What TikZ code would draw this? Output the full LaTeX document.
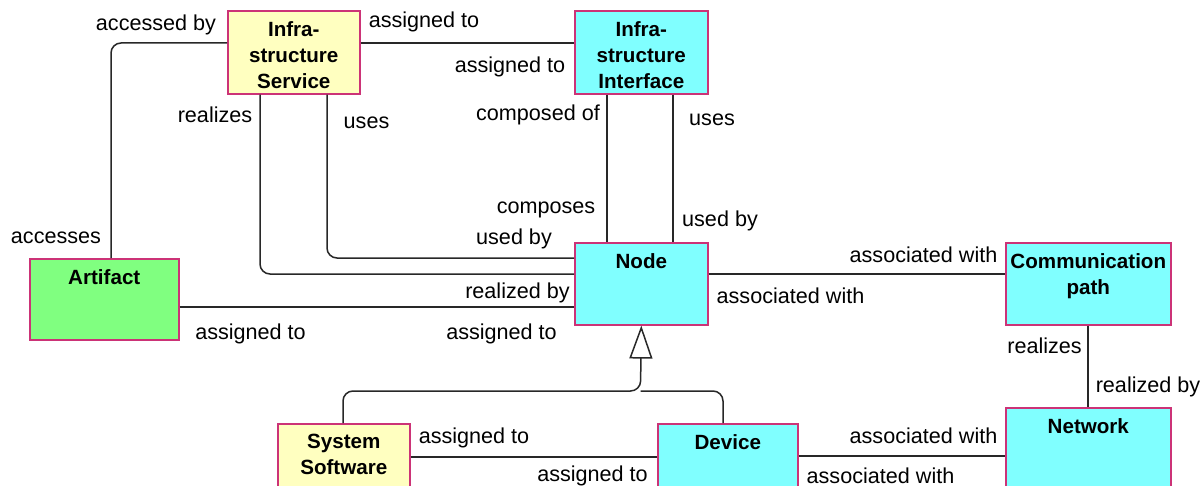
\documentclass[tikz,border=0pt]{standalone}
\usepackage{fontspec}
\setmainfont{Liberation Sans}
\usetikzlibrary{arrows.meta}
\definecolor{boxline}{RGB}{204,51,119}
\definecolor{svcfill}{RGB}{255,255,192}
\definecolor{techfill}{RGB}{128,255,255}
\definecolor{artfill}{RGB}{128,255,128}
\definecolor{wire}{RGB}{40,40,40}

\begin{document}
\begin{tikzpicture}[x=0.5pt,y=-0.5pt,
  elem/.style={draw=boxline, line width=0.8pt, anchor=north west, inner sep=0pt},
  title/.style={anchor=north, inner sep=0pt, yshift=-5.5pt, align=center,
                font=\fontsize{10.3}{13}\selectfont\bfseries},
  rel/.style={font=\fontsize{10.8}{13}\selectfont, inner sep=0pt},
  conn/.style={draw=wire, line width=0.75pt},
  elbow/.style={conn, rounded corners=5pt}]

\useasboundingbox (0,0) rectangle (1202,486);
\clip (0,0) rectangle (1202,486);
\fill[white] (0,0) rectangle (1202,486);

% elements
\node[elem, fill=svcfill, minimum width=66pt, minimum height=41.5pt,
      label={[title]north:Infra-\\structure\\Service}] (svc) at (227,10) {};
\node[elem, fill=techfill, minimum width=66.5pt, minimum height=41.5pt,
      label={[title]north:Infra-\\structure\\Interface}] (ifc) at (574,10) {};
\node[elem, fill=artfill, minimum width=74.5pt, minimum height=40.5pt,
      label={[title]north:Artifact}] (art) at (29,258) {};
\node[elem, fill=techfill, minimum width=66.5pt, minimum height=41pt,
      label={[title]north:Node}] (nd) at (574,242) {};
\node[elem, fill=techfill, minimum width=82.5pt, minimum height=41pt,
      label={[title]north:Communication\\path}] (cp) at (1005,242) {};
\node[elem, fill=techfill, minimum width=82.5pt, minimum height=60pt,
      label={[title]north:Network}] (net) at (1005,407) {};
\node[elem, fill=techfill, minimum width=70pt, minimum height=60pt,
      label={[title]north:Device}] (dev) at (657,423) {};
\node[elem, fill=svcfill, minimum width=66pt, minimum height=60pt,
      label={[title]north:System\\Software}] (sys) at (277,423) {};

% relationships
\draw[conn] (svc.east |- 0,43) -- (ifc.west |- 0,43);
\draw[elbow] (svc.west |- 0,43) -| (art.north -| 111,0);
\draw[elbow] (svc.south -| 260,0) |- (nd.west |- 0,274);
\draw[elbow] (svc.south -| 327,0) |- (nd.west |- 0,258);
\draw[conn] (ifc.south -| 607,0) -- (nd.north -| 607,0);
\draw[conn] (ifc.south -| 673,0) -- (nd.north -| 673,0);
\draw[conn] (art.east |- 0,307) -- (nd.west |- 0,307);
\draw[conn] (nd.east |- 0,274) -- (cp.west |- 0,274);
\draw[conn] (cp.south -| 1088,0) -- (net.north -| 1088,0);
\draw[conn] (dev.east |- 0,456) -- (net.west |- 0,456);
\draw[conn] (sys.east |- 0,457) -- (dev.west |- 0,457);

% specialization of Node
\coordinate (fork) at (640.5,391);
\draw[elbow, -{Triangle[open, width=11.5pt, length=16.5pt]}]
  (sys.north -| 343,0) |- (fork) -- (nd.south);
\draw[elbow] (dev.north -| 723,0) |- (fork);

% role labels
\node[rel] (r1)  at (156,25)    {accessed by};
\node[rel] (r2)  at (424,22)    {assigned to};
\node[rel] (r3)  at (510,66.5)  {assigned to};
\node[rel] (r4)  at (215,115)   {realizes};
\node[rel] (r5)  at (366.5,123) {uses};
\node[rel] (r6)  at (538,115)   {composed of};
\node[rel] (r7)  at (712,120)   {uses};
\node[rel] (r8)  at (546,210)   {composes};
\node[rel] (r9)  at (720,221)   {used by};
\node[rel] (r10) at (514,239)   {used by};
\node[rel] (r11) at (56,238)    {accesses};
\node[rel] (r12) at (517.5,292.5) {realized by};
\node[rel] (r13) at (250.5,333.5) {assigned to};
\node[rel] (r14) at (501.5,334) {assigned to};
\node[rel] (r15) at (923.5,254.5) {associated with};
\node[rel] (r16) at (790.5,296) {associated with};
\node[rel] (r17) at (1044.5,345.5) {realizes};
\node[rel] (r18) at (1148,386.5) {realized by};
\node[rel] (r19) at (923.5,435.5) {associated with};
\node[rel] (r20) at (880.5,476) {associated with};
\node[rel] (r21) at (474,438)   {assigned to};
\node[rel] (r22) at (592.5,476) {assigned to};
\end{tikzpicture}
\end{document}
